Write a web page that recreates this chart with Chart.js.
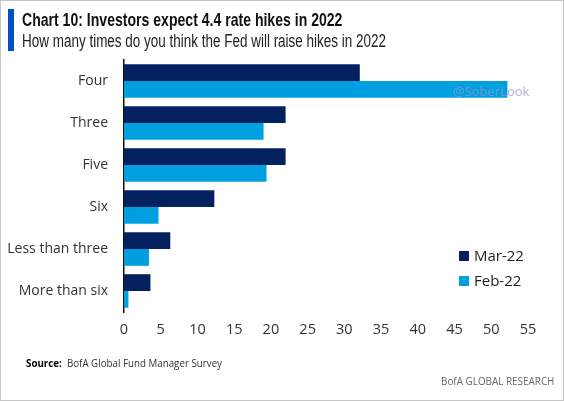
<!DOCTYPE html>
<html>
<head>
<meta charset="utf-8">
<script src="https://cdn.jsdelivr.net/npm/chart.js@4"></script>
<style>
  html, body { margin: 0; padding: 0; background: #fff; }
  #wrap { position: relative; width: 562px; height: 399px; border: 1px solid #c6c6c6; background: #fff; overflow: hidden; }
  #chart { position: absolute; left: -1px; top: -1px; }
  .bar { position: absolute; left: 7px; top: 8px; width: 6px; height: 42px; background: #0050c8; }
  .title { position: absolute; left: 21px; top: 8px; white-space: nowrap; font-family: "Liberation Sans", sans-serif; font-weight: bold; font-size: 18.5px; color: #111; transform: scaleX(0.76); transform-origin: 0 0; }
  .sub { position: absolute; left: 21px; top: 30px; white-space: nowrap; font-family: "Liberation Sans", sans-serif; font-size: 17.5px; color: #222; transform: scaleX(0.77); transform-origin: 0 0; }
  .src { position: absolute; left: 25px; top: 355px; white-space: nowrap; font-family: "Open Sans", sans-serif; font-size: 10.5px; color: #333; transform: scaleX(0.93); transform-origin: 0 0; }
  .src b { color: #000; }
  .brand { position: absolute; left: 440px; top: 372px; white-space: nowrap; font-family: "Open Sans", sans-serif; font-size: 11px; color: #666; transform: scaleX(0.9); transform-origin: 0 0; }
  .wm { position: absolute; left: 452px; top: 81px; font-family: "Open Sans", sans-serif; font-size: 13px; color: rgba(150,150,200,0.75); }
  #legend { position: absolute; left: 458px; top: 244px; font-family: "Open Sans", sans-serif; font-size: 15px; color: #222; }
  #legend div { height: 25px; line-height: 20px; }
  #legend span.sw { display: inline-block; width: 10px; height: 10px; margin-right: 5px; vertical-align: 0px; }
</style>
</head>
<body>
<div id="wrap">
  <canvas id="chart" width="564" height="401"></canvas>
  <div class="bar"></div>
  <div class="title">Chart 10: Investors expect 4.4 rate hikes in 2022</div>
  <div class="sub">How many times do you think the Fed will raise hikes in 2022</div>
  <div class="wm">@SoberLook</div>
  <div id="legend"></div>
  <div class="src"><b>Source:</b>&nbsp; BofA Global Fund Manager Survey</div>
  <div class="brand">BofA GLOBAL RESEARCH</div>
</div>
<script>
var categories = ['Four', 'Three', 'Five', 'Six', 'Less than three', 'More than six'];
var mar22 = [32.1, 22.0, 22.0, 12.3, 6.3, 3.6];
var feb22 = [52.2, 19.0, 19.4, 4.7, 3.4, 0.6];
var xTicks = [0, 5, 10, 15, 20, 25, 30, 35, 40, 45, 50, 55];

var navy = '#03205f';
var sky = '#00a0e0';

var ctx = document.getElementById('chart').getContext('2d');
var myChart = new Chart(ctx, {
    type: 'bar',
    data: {
        labels: categories,
        datasets: [{
            label: 'Mar-22',
            data: mar22,
            backgroundColor: navy,
            categoryPercentage: 0.8,
            barPercentage: 1.0
        }, {
            label: 'Feb-22',
            data: feb22,
            backgroundColor: sky,
            categoryPercentage: 0.8,
            barPercentage: 1.0
        }]
    },
    options: {
        indexAxis: 'y',
        responsive: false,
        animation: false,
        layout: { padding: { left: 0, right: 36, top: 60, bottom: 0 } },
        plugins: {
            legend: { display: false },
            tooltip: { enabled: false }
        },
        scales: {
            x: {
                min: 0,
                max: 55,
                afterBuildTicks: function (scale) {
                    scale.ticks = xTicks.map(function (v) { return { value: v }; });
                },
                grid: { display: false, drawTicks: false },
                border: { display: false },
                ticks: { padding: 9, color: '#333', font: { family: 'Open Sans', size: 14.5 } },
                afterFit: function (scale) { scale.height = 89; }
            },
            y: {
                grid: { display: false, drawTicks: false },
                border: { display: true, color: '#111', width: 1.5 },
                ticks: { padding: 16, color: '#333', font: { family: 'Open Sans', size: 14 } },
                afterFit: function (scale) { scale.width = 124; }
            }
        }
    }
});

// legend from datasets
var lg = document.getElementById('legend');
myChart.data.datasets.forEach(function (ds) {
    var row = document.createElement('div');
    row.innerHTML = '<span class="sw" style="background:' + ds.backgroundColor + '"></span>' + ds.label;
    lg.appendChild(row);
});
</script>
</body>
</html>
